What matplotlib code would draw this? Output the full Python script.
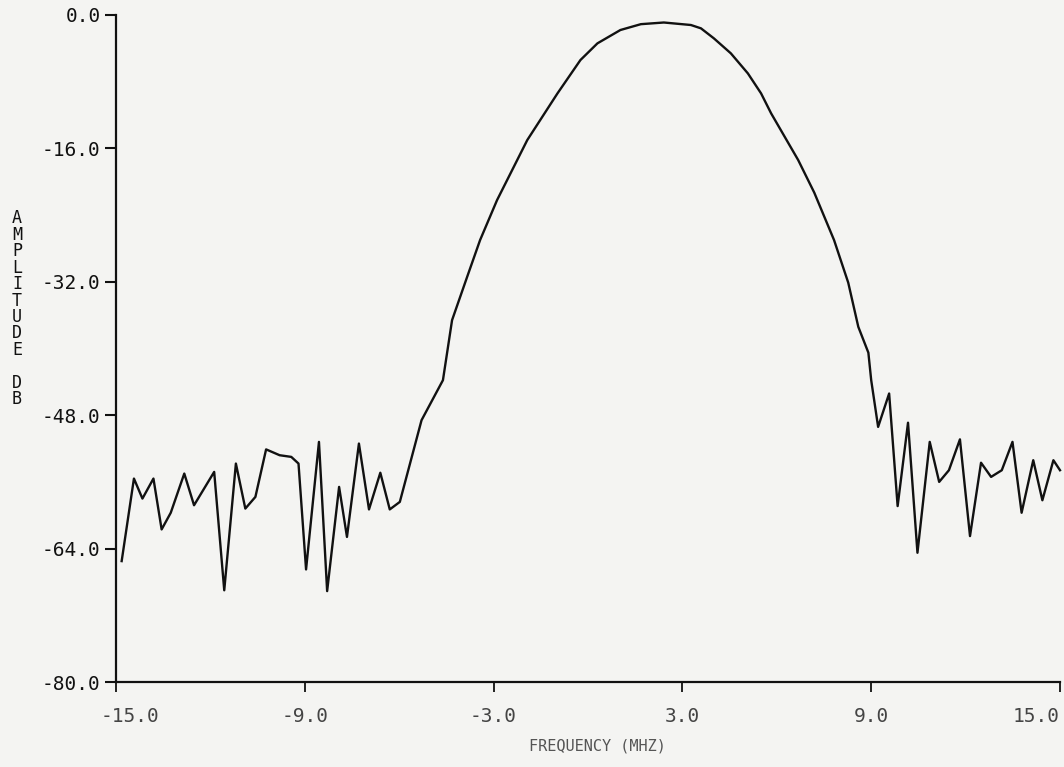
import matplotlib
matplotlib.use('Agg')
import matplotlib.pyplot as plt
import matplotlib.transforms as mtransforms

# values (frequency in MHz, amplitude in dB)
freq = [-14.82, -14.43, -14.16, -13.81, -13.55, -13.26, -12.83, -12.52, -11.88,
        -11.56, -11.19, -10.89, -10.57, -10.23, -9.80, -9.43, -9.20, -8.96,
        -8.55, -8.29, -7.91, -7.66, -7.28, -6.96, -6.60, -6.30, -5.98,
        -5.29, -4.61, -4.32, -3.84, -3.43, -2.89, -1.93, -0.97, -0.24, 0.30,
        1.03, 1.68, 2.41, 3.27, 3.59, 4.00, 4.54, 5.08, 5.50, 5.82, 6.68,
        7.19, 7.82, 8.27, 8.59, 8.91, 9.00,
        9.22, 9.57, 9.84, 10.17, 10.47, 10.86, 11.16, 11.47, 11.82, 12.14,
        12.49, 12.81, 13.15, 13.49, 13.78, 14.15, 14.44, 14.79, 15.00]
amp = [-65.5, -55.6, -58.0, -55.6, -61.7, -59.7, -55.0, -58.8, -54.8,
       -69.0, -53.8, -59.2, -57.8, -52.1, -52.8, -53.0, -53.8, -66.5,
       -51.2, -69.1, -56.6, -62.6, -51.4, -59.3, -54.9, -59.3, -58.4,
       -48.6, -43.8, -36.6, -31.4, -27.0, -22.2, -15.0, -9.4, -5.4, -3.4,
       -1.8, -1.1, -0.9, -1.2, -1.6, -2.8, -4.6, -7.0, -9.4, -11.8, -17.4,
       -21.3, -27.0, -32.1, -37.4, -40.5, -43.8,
       -49.4, -45.4, -58.9, -48.9, -64.5, -51.2, -56.0, -54.6, -50.9, -62.5,
       -53.7, -55.4, -54.6, -51.2, -59.7, -53.4, -58.2, -53.4, -54.6]

xticks = [-15, -9, -3, 3, 9, 15]
yticks = [0, -16, -32, -48, -64, -80]

bg = '#f4f4f2'
ink = '#111111'

fig = plt.figure(figsize=(10.64, 7.67), dpi=100, facecolor=bg)
ax = fig.add_axes([116/1064, 1 - 682/767, (1060 - 116)/1064, (682 - 15)/767])
ax.set_facecolor(bg)

ax.plot(freq, amp, color=ink, lw=1.7, clip_on=False)

ax.set_xlim(-15, 15)
ax.set_ylim(-80, 0)
ax.set_xticks(xticks)
ax.set_xticklabels(['%.1f' % v for v in xticks])
ax.set_yticks(yticks)
ax.set_yticklabels(['%.1f' % v for v in yticks])

for s in ['top', 'right']:
    ax.spines[s].set_visible(False)
for s in ['left', 'bottom']:
    ax.spines[s].set_linewidth(1.6)
    ax.spines[s].set_color(ink)

ax.tick_params(axis='y', direction='out', length=8, width=1.5, color=ink,
               pad=3, labelsize=14, labelcolor=ink)
ax.tick_params(axis='x', direction='out', length=7, width=1.3, color=ink,
               pad=11, labelsize=14, labelcolor='#444444')
for lab in ax.get_xticklabels() + ax.get_yticklabels():
    lab.set_family('DejaVu Sans Mono')

# end labels are pulled inwards so they stay on the sheet
xl = ax.get_xticklabels()
xl[0].set_transform(xl[0].get_transform() +
                    mtransforms.ScaledTranslation(14/100, 0, fig.dpi_scale_trans))
xl[-1].set_horizontalalignment('right')

ax.set_xlabel('FREQUENCY (MHZ)', family='DejaVu Sans Mono', fontsize=11,
              color='#555555', labelpad=7)
ax.xaxis.set_label_coords(0.51, -0.085)

# stacked vertical axis title, one letter per line like the plotter did it
for i, ch in enumerate('AMPLITUDE DB'):
    fig.text(17/1064, 1 - (218 + i*16.5)/767, ch, family='DejaVu Sans Mono',
             fontsize=12, color=ink, ha='center', va='center')

fig.savefig('out.png', dpi=100, facecolor=bg)
